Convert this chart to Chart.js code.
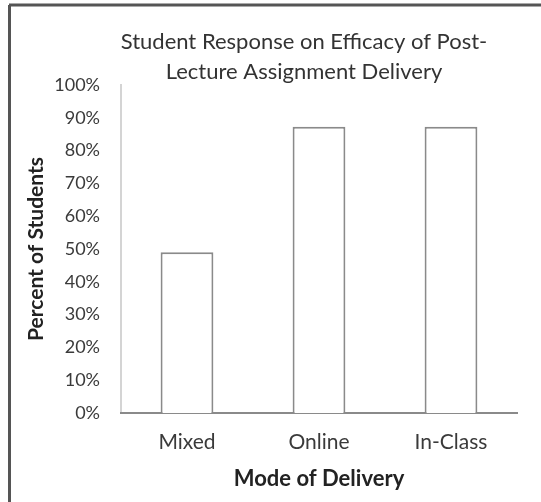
<!DOCTYPE html>
<html>
<head>
<meta charset="utf-8">
<script src="https://cdn.jsdelivr.net/npm/chart.js@4"></script>
<style>
html,body{margin:0;padding:0;background:#fff;}
#wrap{position:relative;width:541px;height:502px;}
</style>
</head>
<body>
<div id="wrap"><canvas id="c" width="541" height="502"></canvas></div>
<script>
const categories = ["Mixed", "Online", "In-Class"];
const percentValues = [49, 87.3, 87.3];
const titleLines = ["Student Response on Efficacy of Post-", "Lecture Assignment Delivery"];
const yAxisTitle = "Percent of Students";
const xAxisTitle = "Mode of Delivery";

const FONT = "Lato, 'Open Sans', sans-serif";

const framePlugin = {
  id: 'frame',
  afterDraw(chart) {
    const ctx = chart.ctx;
    ctx.save();
    ctx.strokeStyle = '#555';
    ctx.lineWidth = 3;
    ctx.beginPath();
    ctx.moveTo(9, 5);
    ctx.lineTo(541, 5);
    ctx.moveTo(9.5, 5);
    ctx.lineTo(9.5, 502);
    ctx.stroke();
    // chart title
    ctx.fillStyle = '#333';
    ctx.font = "22px " + FONT;
    ctx.textAlign = 'center';
    ctx.textBaseline = 'middle';
    titleLines.forEach((t, i) => ctx.fillText(t, 304, 42 + i * 30));
    ctx.restore();
  }
};

new Chart(document.getElementById('c'), {
  type: 'bar',
  data: {
    labels: categories,
    datasets: [{
      data: percentValues,
      backgroundColor: '#ffffff',
      borderColor: '#8a8a8a',
      borderWidth: 2,
      categoryPercentage: 1,
      barPercentage: 0.4
    }]
  },
  options: {
    responsive: false,
    animation: false,
    devicePixelRatio: 1,
    layout: { padding: { left: 12, right: 24, top: 85, bottom: 0 } },
    plugins: {
      legend: { display: false },
      tooltip: { enabled: false },
      title: { display: false }
    },
    scales: {
      y: {
        min: 0, max: 100,
        ticks: {
          stepSize: 10,
          callback: v => v + '%',
          color: '#3a3a3a',
          font: { family: FONT, size: 18 },
          padding: 21
        },
        grid: { display: false, drawTicks: false },
        border: { display: true, color: '#d4d4d4', width: 2 },
        title: {
          display: true,
          text: yAxisTitle,
          color: '#222',
          font: { family: FONT, size: 21, weight: 'bold' },
          padding: { top: 12, bottom: 0 }
        },
        afterFit(scale) { scale.width = 109; }
      },
      x: {
        ticks: {
          color: '#3a3a3a',
          font: { family: FONT, size: 21 },
          padding: 17
        },
        grid: { display: false, drawTicks: false },
        border: { display: true, color: '#8a8a8a', width: 2 },
        title: {
          display: true,
          text: xAxisTitle,
          color: '#222',
          font: { family: FONT, size: 22, weight: 'bold' },
          padding: { top: 0, bottom: 10 }
        },
        afterFit(scale) { scale.height = 89; }
      }
    }
  },
  plugins: [framePlugin]
});
</script>
</body>
</html>
